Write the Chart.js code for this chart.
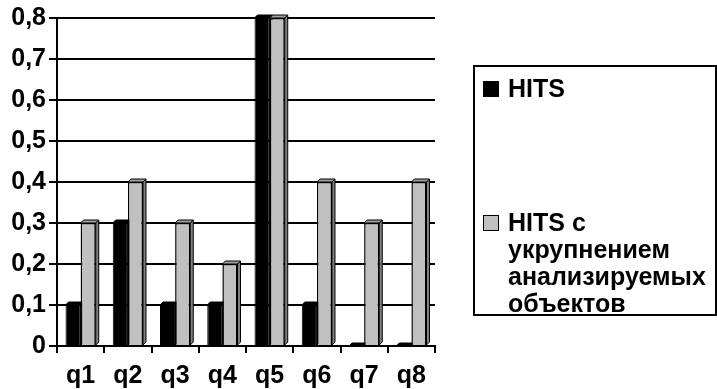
<!DOCTYPE html>
<html>
<head>
<meta charset="utf-8">
<script src="https://cdn.jsdelivr.net/npm/chart.js@4"></script>
<style>
  html, body { margin: 0; padding: 0; background: #fff; }
  #wrap { position: relative; width: 717px; height: 389px; }
  canvas { position: absolute; left: 0; top: 0; }
  #legend { position: absolute; left: 473px; top: 65px; width: 240px; height: 247px;
    border: 2px solid #000; font: bold 25px "Liberation Sans", Arial, sans-serif; color: #000; }
  .item { position: absolute; left: 8px; line-height: 27px; }
  .sw { position: absolute; left: 0; width: 16px; height: 16px; border: 1px solid #000; box-sizing: border-box; }
  .txt { position: absolute; left: 25px; white-space: nowrap; }
</style>
</head>
<body>
<div id="wrap">
  <canvas id="c" width="717" height="389"></canvas>
  <div id="legend"></div>
</div>
<script>
const categories = ["q1", "q2", "q3", "q4", "q5", "q6", "q7", "q8"];
const seriesNames = ["HITS", "HITS с укрупнением анализируемых объектов"];
const legendLines = [["HITS"], ["HITS с", "укрупнением", "анализируемых", "объектов"]];
const hitsValues = [0.1, 0.3, 0.1, 0.1, 0.8, 0.1, 0, 0];
const hitsGroupedValues = [0.3, 0.4, 0.3, 0.2, 0.8, 0.4, 0.3, 0.4];
const yTicks = [0, 0.1, 0.2, 0.3, 0.4, 0.5, 0.6, 0.7, 0.8];

const frontColors = ["#000000", "#c0c0c0"];
const sideColors = ["#000000", "#808080"];
const topColors = ["#000000", "#a0a0a0"];
const DEPTH = 3;

const bar3d = {
  id: "bar3d",
  beforeDatasetsDraw(chart) {
    const ctx = chart.ctx;
    chart.data.datasets.forEach((ds, di) => {
      const meta = chart.getDatasetMeta(di);
      meta.data.forEach(el => {
        const p = el.getProps(["x", "y", "base", "width"], true);
        const l = p.x - p.width / 2, r = p.x + p.width / 2;
        const top = Math.min(p.y, p.base), bot = Math.max(p.y, p.base);
        ctx.save();
        ctx.lineWidth = 1;
        ctx.strokeStyle = "#000";
        ctx.beginPath();
        ctx.moveTo(r, top); ctx.lineTo(r + DEPTH, top - DEPTH);
        ctx.lineTo(r + DEPTH, bot - DEPTH); ctx.lineTo(r, bot); ctx.closePath();
        ctx.fillStyle = sideColors[di]; ctx.fill(); ctx.stroke();
        ctx.beginPath();
        ctx.moveTo(l, top); ctx.lineTo(l + DEPTH, top - DEPTH);
        ctx.lineTo(r + DEPTH, top - DEPTH); ctx.lineTo(r, top); ctx.closePath();
        ctx.fillStyle = topColors[di]; ctx.fill(); ctx.stroke();
        ctx.restore();
      });
    });
  }
};

const font = { family: "'Liberation Sans', Arial, sans-serif", weight: "bold", size: 25 };

new Chart(document.getElementById("c"), {
  type: "bar",
  data: {
    labels: categories,
    datasets: [
      { label: seriesNames[0], data: hitsValues, backgroundColor: frontColors[0],
        borderColor: "#000", borderWidth: 1, categoryPercentage: 0.64, barPercentage: 1 },
      { label: seriesNames[1], data: hitsGroupedValues, backgroundColor: frontColors[1],
        borderColor: "#000", borderWidth: 1.5, categoryPercentage: 0.64, barPercentage: 1 }
    ]
  },
  options: {
    responsive: false,
    animation: false,
    layout: { padding: { top: 17, right: 282, left: 0, bottom: 0 } },
    plugins: { legend: { display: false }, tooltip: { enabled: false } },
    scales: {
      x: {
        offset: true,
        grid: { offset: true, drawOnChartArea: false, drawTicks: true, tickLength: 7, color: "#000", lineWidth: 2 },
        border: { display: true, color: "#000", width: 2 },
        ticks: { font: font, color: "#000", padding: 8, maxRotation: 0 },
        afterFit(s) { s.height = 43; }
      },
      y: {
        min: 0, max: 0.8,
        afterBuildTicks(s) { s.ticks = yTicks.map(v => ({ value: v })); },
        grid: { color: "#000", lineWidth: 2, tickLength: 8, drawTicks: true },
        border: { display: true, color: "#000", width: 2 },
        ticks: { font: font, color: "#000", padding: 3,
          callback: v => String(Math.round(v * 10) / 10).replace(".", ",") },
        afterFit(s) { s.width = 57; }
      }
    }
  },
  plugins: [bar3d]
});

const legend = document.getElementById("legend");
const itemTops = [8, 142];
legendLines.forEach((lines, i) => {
  const item = document.createElement("div");
  item.className = "item";
  item.style.top = itemTops[i] + "px";
  const sw = document.createElement("div");
  sw.className = "sw";
  sw.style.top = "6px";
  sw.style.background = frontColors[i];
  item.appendChild(sw);
  lines.forEach((t, k) => {
    const d = document.createElement("div");
    d.className = "txt";
    d.style.top = (k * 27) + "px";
    d.textContent = t;
    item.appendChild(d);
  });
  legend.appendChild(item);
});
</script>
</body>
</html>
